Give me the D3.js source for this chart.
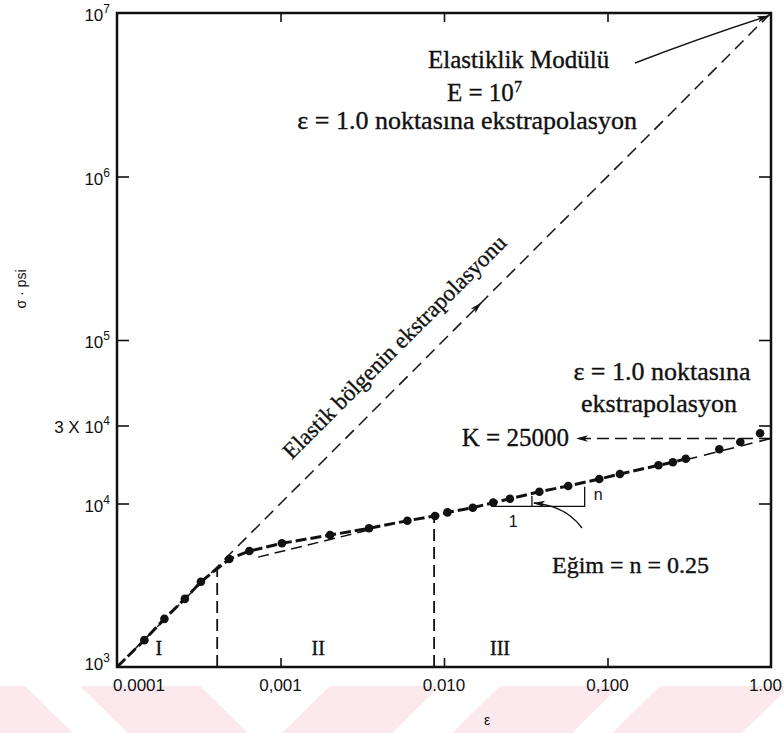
<!DOCTYPE html>
<html>
<head>
<meta charset="utf-8">
<script src="https://cdn.jsdelivr.net/npm/d3@7"></script>
<style>
  body { margin: 0; background: #fff; }
  .serif { font-family: "Liberation Serif", "DejaVu Serif", serif; fill: #111; stroke: #111; stroke-width: 0.35; }
  .sans { font-family: "Liberation Sans", Arial, sans-serif; fill: #111; }
</style>
</head>
<body>
<svg id="chart" width="784" height="733"></svg>
<script>

// measured points, strain (in/in) and stress (psi)
const strain = [0.000147, 0.000195, 0.00026, 0.000326, 0.000486, 0.000645, 0.00102, 0.00201,
  0.00348, 0.00597, 0.00881, 0.0105, 0.015, 0.02, 0.0253, 0.0383, 0.0575, 0.0891,
  0.119, 0.205, 0.251, 0.301, 0.483, 0.649, 0.857];
const stress = [1460, 1970, 2610, 3320, 4580, 5120, 5710, 6410,
  7050, 7850, 8390, 8830, 9420, 10120, 10690, 11800, 12800, 14120,
  15150, 17130, 17870, 18790, 21460, 23780, 26880];

const xTicks = [0.0001, 0.001, 0.01, 0.1, 1];
const xTickLabels = ["0.0001", "0,001", "0.010", "0,100", "1.00"];
const yTicks = [1e3, 1e4, 3e4, 1e5, 1e6, 1e7];
const yTickBase = ["10", "10", "3 X 10", "10", "10", "10"];
const yTickExp = ["3", "4", "4", "5", "6", "7"];

// guide lines
const elasticLine = [[0.0001, 1000], [1, 1e7]];
const fitII = [[0.00073, 4700], [0.0035, 6900]];
const fitIII = [[0.3, 18500], [1, 25000]];
const K = 25000;
const regionBounds = [[0.00041, 3900], [0.0087, 8300]];
const regionNames = ["I", "II", "III"];
const regionLabelX = [0.00018, 0.0017, 0.022];

const svg = d3.select("#chart");

const x = d3.scaleLog().domain([1e-4, 1]).range([117, 771]);
const y = d3.scaleLog().domain([1e3, 1e7]).range([667, 13]);
const line = d3.line().x(d => x(d[0])).y(d => y(d[1]));

// faint pink watermark stripes along the bottom of the scan
const wm = svg.append("g").attr("fill", "#fce9ed");
const wmTop = 686, wmBot = 733, slant = 48;
[[-70, 25], [80, 200]].forEach(b => wm.append("path")
  .attr("d", `M${b[0]},${wmTop} H${b[1]} L${b[1] + slant},${wmBot} H${b[0] + slant} Z`));
[[330, 440], [500, 620], [660, 790]].forEach(b => wm.append("path")
  .attr("d", `M${b[0]},${wmTop} H${b[1]} L${b[1] - slant},${wmBot} H${b[0] - slant} Z`));

svg.append("defs").append("marker")
  .attr("id", "arrow")
  .attr("viewBox", "0 0 12 8")
  .attr("refX", 11).attr("refY", 4)
  .attr("markerWidth", 12).attr("markerHeight", 8)
  .attr("markerUnits", "userSpaceOnUse")
  .attr("orient", "auto")
  .append("path")
  .attr("d", "M0,0.8 L12,4 L0,7.2 L3,4 Z")
  .attr("fill", "#111");

// frame
svg.append("rect")
  .attr("x", x(1e-4)).attr("y", y(1e7))
  .attr("width", x(1) - x(1e-4)).attr("height", y(1e3) - y(1e7))
  .attr("fill", "none").attr("stroke", "#111").attr("stroke-width", 2.5);

// inward ticks on all sides
function ticks(g) {
  g.select(".domain").remove();
  g.selectAll(".tick line").attr("stroke", "#111").attr("stroke-width", 1.6);
}
svg.append("g").attr("transform", `translate(0,${y(1e3)})`)
  .call(d3.axisBottom(x).tickValues(xTicks.slice(1, -1)).tickSize(-9).tickFormat(""))
  .call(ticks);
svg.append("g").attr("transform", `translate(0,${y(1e7)})`)
  .call(d3.axisTop(x).tickValues(xTicks.slice(1, -1)).tickSize(-9).tickFormat(""))
  .call(ticks);
svg.append("g").attr("transform", `translate(${x(1e-4)},0)`)
  .call(d3.axisLeft(y).tickValues(yTicks.slice(1, -1)).tickSize(-12).tickFormat(""))
  .call(ticks);
svg.append("g").attr("transform", `translate(${x(1)},0)`)
  .call(d3.axisRight(y).tickValues(yTicks.slice(1, -1)).tickSize(-12).tickFormat(""))
  .call(ticks);

// tick labels
svg.selectAll(".xlab").data(xTicks).enter().append("text")
  .attr("class", "sans")
  .attr("font-size", 17)
  .attr("x", (d, i) => i === 0 ? x(d) - 4 : (i === xTicks.length - 1 ? x(d) + 11 : x(d)))
  .attr("y", y(1e3) + 24)
  .attr("text-anchor", (d, i) => i === 0 ? "start" : (i === xTicks.length - 1 ? "end" : "middle"))
  .text((d, i) => xTickLabels[i]);

const ylab = svg.selectAll(".ylab").data(yTicks).enter().append("text")
  .attr("class", "sans")
  .attr("font-size", 17)
  .attr("text-anchor", "end")
  .attr("x", x(1e-4) - 7)
  .attr("y", d => y(d) + (d === 1e3 ? 3 : 8));
ylab.append("tspan").text((d, i) => yTickBase[i]);
ylab.append("tspan").attr("font-size", 12).attr("dy", -8).text((d, i) => yTickExp[i]);

// axis titles
svg.append("text").attr("class", "sans").attr("font-size", 14)
  .attr("transform", "translate(26,289) rotate(-90)")
  .attr("text-anchor", "middle")
  .text("σ  ·  psi");
svg.append("text").attr("class", "sans").attr("font-size", 14)
  .attr("x", 487).attr("y", 725).attr("text-anchor", "middle")
  .text("ε");

// elastic extrapolation
svg.append("path").attr("d", line(elasticLine))
  .attr("fill", "none").attr("stroke", "#111").attr("stroke-width", 1.5)
  .attr("stroke-dasharray", "12,7");
const midE = [0.0155, 0.0168];
svg.append("path").attr("d", line(midE.map(e => [e, elasticLine[1][1] * e])))
  .attr("stroke", "#111").attr("stroke-width", 1.2).attr("fill", "none")
  .attr("marker-end", "url(#arrow)");

// fitted lines
svg.append("path").attr("d", line(fitII))
  .attr("fill", "none").attr("stroke", "#111").attr("stroke-width", 1.5)
  .attr("stroke-dasharray", "11,6");
svg.append("path").attr("d", line(fitIII))
  .attr("fill", "none").attr("stroke", "#111").attr("stroke-width", 1.6)
  .attr("stroke-dasharray", "12,7");

// region boundaries
svg.selectAll(".bound").data(regionBounds).enter().append("line")
  .attr("x1", d => x(d[0])).attr("x2", d => x(d[0]))
  .attr("y1", y(1e3)).attr("y2", d => y(d[1]))
  .attr("stroke", "#111").attr("stroke-width", 1.8)
  .attr("stroke-dasharray", "12,6");

svg.selectAll(".reg").data(regionNames).enter().append("text")
  .attr("class", "serif").attr("font-size", 20)
  .attr("x", (d, i) => x(regionLabelX[i])).attr("y", y(1e3) - 12)
  .attr("text-anchor", "middle")
  .text(d => d);

// measured curve
const curve = [[1e-4, 1000]].concat(strain.slice(0, 22).map((e, i) => [e, stress[i]]));
svg.append("path").attr("d", line(curve))
  .attr("fill", "none").attr("stroke", "#111").attr("stroke-width", 3)
  .attr("stroke-dasharray", "11,4");
svg.selectAll(".pt").data(strain).enter().append("circle")
  .attr("cx", d => x(d)).attr("cy", (d, i) => y(stress[i]))
  .attr("r", 4.3).attr("fill", "#111");

// K arrow
svg.append("path").attr("d", line([[1, K], [0.065, K]]))
  .attr("fill", "none").attr("stroke", "#111").attr("stroke-width", 1.5)
  .attr("stroke-dasharray", "12,6")
  .attr("marker-end", "url(#arrow)");
svg.append("text").attr("class", "serif").attr("font-size", 25)
  .attr("x", x(0.065) - 8).attr("y", y(K) + 8).attr("text-anchor", "end")
  .text("K = 25000");

// slope triangle
const triX = [0.0194, 0.0725, 0.0345];
svg.append("path")
  .attr("d", `M${x(triX[0])},${y(9600)} H${x(triX[1])} V${y(12650)}`)
  .attr("fill", "none").attr("stroke", "#111").attr("stroke-width", 1.3);
svg.append("line")
  .attr("x1", x(triX[2])).attr("x2", x(triX[2]))
  .attr("y1", y(9600)).attr("y2", y(11100))
  .attr("stroke", "#111").attr("stroke-width", 1.3);
svg.append("text").attr("class", "sans").attr("font-size", 16)
  .attr("x", x(0.0265)).attr("y", y(9600) + 21).attr("text-anchor", "middle").text("1");
svg.append("text").attr("class", "sans").attr("font-size", 16)
  .attr("x", x(0.0725) + 9).attr("y", y(11000) + 3).text("n");
svg.append("path")
  .attr("d", `M582,528 Q566,506 ${x(triX[2]) + 2},503`)
  .attr("fill", "none").attr("stroke", "#111").attr("stroke-width", 1.3)
  .attr("marker-end", "url(#arrow)");
svg.append("text").attr("class", "serif").attr("font-size", 24)
  .attr("x", 552).attr("y", 573)
  .text("Eğim = n = 0.25");

// right side annotation
svg.append("text").attr("class", "serif").attr("font-size", 26)
  .attr("x", 662).attr("y", 380).attr("text-anchor", "middle")
  .text("ε = 1.0 noktasına");
svg.append("text").attr("class", "serif").attr("font-size", 26)
  .attr("x", 659).attr("y", 412).attr("text-anchor", "middle")
  .text("ekstrapolasyon");

// top annotation
svg.append("text").attr("class", "serif").attr("font-size", 25)
  .attr("x", 428).attr("y", 68).text("Elastiklik Modülü");
const eLab = svg.append("text").attr("class", "serif").attr("font-size", 25)
  .attr("x", 447).attr("y", 101);
eLab.append("tspan").text("E = 10");
eLab.append("tspan").attr("font-size", 16).attr("dy", -9).text("7");
svg.append("text").attr("class", "serif").attr("font-size", 26)
  .attr("x", 637).attr("y", 129).attr("text-anchor", "end")
  .text("ε = 1.0 noktasına ekstrapolasyon");
svg.append("path")
  .attr("d", `M635,63 Q700,38 ${x(1) - 3},${y(1e7) + 3}`)
  .attr("fill", "none").attr("stroke", "#111").attr("stroke-width", 1.4)
  .attr("marker-end", "url(#arrow)");

// label along the elastic line
const labE = 0.00147;
svg.append("text").attr("class", "serif").attr("font-size", 23)
  .attr("transform", `translate(${x(labE) - 16},${y(elasticLine[1][1] * labE) - 16}) rotate(-45)`)
  .text("Elastik bölgenin ekstrapolasyonu");

</script>
</body>
</html>
